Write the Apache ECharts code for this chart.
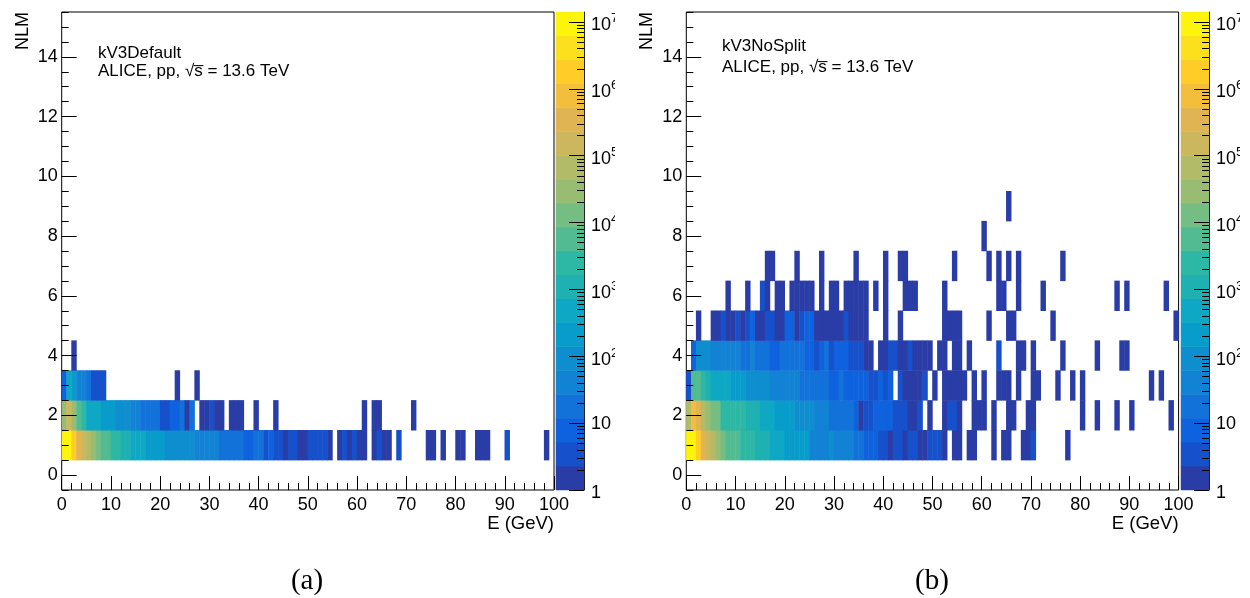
<!DOCTYPE html>
<html>
<head>
<meta charset="utf-8">
<style>html,body{margin:0;padding:0;background:#fff}#c{width:1250px;height:598px}</style>
<script src="https://cdn.jsdelivr.net/npm/echarts@6/dist/echarts.min.js"></script>
</head>
<body>
<div id="c"></div>
<script>
// Each row is a list of runs: [first E bin, count in that bin, count in next bin, ...]
const a1 = [[0,9400000,9400000,1800000,350000,150000,68000,30000,13000,5700,5700,2500,2500,1100,1100,480,480,480,210,210,210,210,92,92,92,92,92,92,41,41,41,41,41,18,18,18,18,18,8,8,18,18,3,8,3,3,1,3,3,1,1,3,3,3,3,1],[56,1,3,1,3,1,1],[63,1,3,1,1],[68,3],[74,1,1],[77,1],[80,1,1],[84,1,1,1],[90,3],[98,1]];
const a2 = [[0,30000,150000,30000,5700,2500,480,480,480,210,210,210,92,92,92,41,41,18,18,18,18,3,3,8,8,18,1,18],[28,1,1,3,1,1],[34,1,1,1],[39,1],[43,1],[61,1],[63,1,1],[71,1]];
const a3 = [[0,8,480,210,41,41,18,3,3,3],[23,1],[27,1]];
const a4 = [[2,1]];

const b1 = [[0,9400000,9400000,1800000,350000,150000,68000,30000,13000,5700,5700,5700,2500,2500,2500,1100,1100,1100,480,480,480,210,210,210,210,210,41,41,41,41,92,41,41,41,41,18,18,8,8,8,3,3,1,3,3,1,3,3,1,1,3,3,3,1],[54,1,1],[57,1,1],[62,1],[64,1,1],[68,1,1,3],[77,1]];
const b2 = [[0,68000,800000,350000,68000,30000,13000,13000,2500,2500,2500,2500,2500,1100,1100,1100,480,480,480,210,210,210,210,92,92,92,92,41,41,41,18,18,18,18,18,8,1,3,3,8,8,8,8,3,3,3,1,1,3],[49,1],[52,1,3,3,1],[58,1,1,1],[62,1],[65,1,1],[69,1,1],[80,1],[83,1],[87,1],[90,1],[98,1]];
const b3 = [[0,3,5700,5700,2500,1100,480,480,480,480,210,210,210,92,92,92,92,92,41,41,41,41,41,41,18,18,18,18,18,18,8,8,18,8,8,8,8,8,3,3,8,3,8],[43,3,1,1,1,1,3],[50,1],[52,1,1,1,1,1],[58,1],[60,1],[63,1,1,1],[67,1],[70,1,1],[75,1],[78,1],[80,1],[94,1],[96,1]];
const b4 = [[1,8,92,92,92,41,41,41,41,41,41,18,18,41,18,18,18,8,8,18,18,18,18,18,8,8,3,8,18,3,8,8,8,3,3,3,1,1],[39,1,1,3,3,1,1,3,1,1,1,1],[51,1,1],[54,1,1],[57,1],[63,3],[67,1,1],[70,1],[76,1],[83,1],[88,1,1]];
const b5 = [[2,1],[5,1,1,3,1,1,3,1,3,8,1,1,3,3,1,1,8,8,1,3,8,8,1,1,1,1,1,1,3,1,1,1,1],[40,1],[43,1],[52,1,1,1,1],[61,1],[65,1,1],[74,1],[99,1]];
const b6 = [[8,1],[12,1],[15,3,1],[18,1,1],[21,1,1,1,1,1],[27,1],[29,1,1],[32,1,1,1,1,1],[38,1],[40,1],[44,1,1,1],[52,1],[63,1,1],[67,1],[72,1],[87,1],[89,1],[97,1]];
const b7 = [[16,1,1],[22,1],[27,1],[34,1],[40,1],[43,1,1],[54,1],[61,1],[63,1],[65,1],[67,1],[76,1]];
const b8 = [[60,1]];
const b9 = [[65,1]];

const rowsA = {1:a1, 2:a2, 3:a3, 4:a4};
const rowsB = {1:b1, 2:b2, 3:b3, 4:b4, 5:b5, 6:b6, 7:b7, 8:b8, 9:b9};

const barValues = [1,3,8,18,41,92,210,480,1100,2500,5700,13000,30000,68000,150000,350000,800000,1800000,4000000,9400000];
const barColors = ['#2A3CA6','#1650CB','#0F62DD','#1272DA','#1282D4','#0E8ECE','#089CCB','#0EA8C4','#1FB1B2','#2DB7A5','#52BB92','#74BE84','#98BD72','#B1BB68','#CCB65E','#E0B452','#F2BE3C','#FFCC28','#FCE01E','#FCF40A'];
const barDecades = 7.15;
const eCategories = Array.from({length:100}, (_, i) => String(i));
const nlmCategories = Array.from({length:16}, (_, i) => String(i));
const nlmMajor = [0,2,4,6,8,10,12,14];
const nlmMinor = Array.from({length:33}, (_, i) => i/2 - 0.5);
const decadeTicks = [0,1,2,3,4,5,6,7];
const minorMultipliers = [2,3,4,5,6,7,8,9];
const minorDecadeTicks = [];
decadeTicks.forEach(d => minorMultipliers.forEach(m => {
  const v = d + Math.log10(m);
  if (v < barDecades) minorDecadeTicks.push(v);
}));

const FONT = '"Liberation Sans", Arial, sans-serif';
const xAxis = [], yAxis = [], grid = [], series = [];
const noLine = {show:false, onZero:false};

function cells(rows) {
  const out = [];
  Object.keys(rows).forEach(n => rows[n].forEach(run => {
    run.slice(1).forEach((v, i) => out.push([run[0] + i, +n, v]));
  }));
  return out;
}

function addPanel(rows, left, barLeft) {
  const gi = grid.length;
  grid.push({left:left, top:12, width:492.3, height:478, show:true, borderColor:'#000', borderWidth:1, backgroundColor:'#fff', containLabel:false});
  const xi = xAxis.length, yi = yAxis.length;
  xAxis.push({gridIndex:gi, type:'category', data:eCategories, show:false, boundaryGap:true});
  yAxis.push({gridIndex:gi, type:'category', data:nlmCategories, show:false, boundaryGap:true});
  xAxis.push({gridIndex:gi, type:'value', z:5, min:0, max:100, interval:10, position:'bottom', splitLine:{show:false}, axisLine:noLine,
    axisTick:{show:true, inside:true, length:14, lineStyle:{color:'#000', width:1}},
    axisLabel:{show:true, margin:6, color:'#000', fontSize:18, fontFamily:FONT, showMinLabel:true, showMaxLabel:true, hideOverlap:false},
    name:'E (GeV)', nameLocation:'end', nameGap:0, nameMoveOverlap:false,
    nameTextStyle:{color:'#000', fontSize:18.5, fontFamily:FONT, align:'right', verticalAlign:'top', padding:[24,0,0,0]}});
  xAxis.push({gridIndex:gi, type:'value', z:5, min:0, max:100, interval:2, position:'bottom', splitLine:{show:false}, axisLine:noLine,
    axisTick:{show:true, inside:true, length:7, lineStyle:{color:'#000', width:1}}, axisLabel:{show:false}});
  yAxis.push({gridIndex:gi, type:'value', z:5, min:-0.5, max:15.5, position:'left', splitLine:{show:false}, axisLine:noLine,
    axisTick:{show:true, inside:true, length:15, customValues:nlmMajor, lineStyle:{color:'#000', width:1}},
    axisLabel:{show:true, margin:4, padding:[2,0,0,0], color:'#000', fontSize:18, fontFamily:FONT, customValues:nlmMajor, hideOverlap:false},
    name:'NLM', nameLocation:'end', nameGap:0, nameRotate:90, nameMoveOverlap:false,
    nameTextStyle:{color:'#000', fontSize:18, fontFamily:FONT, align:'right', verticalAlign:'bottom', padding:[0,0,30,0]}});
  yAxis.push({gridIndex:gi, type:'value', z:5, min:-0.5, max:15.5, position:'left', splitLine:{show:false}, axisLine:noLine,
    axisTick:{show:true, inside:true, length:7, customValues:nlmMinor, lineStyle:{color:'#000', width:1}}, axisLabel:{show:false}});
  series.push({type:'heatmap', xAxisIndex:xi, yAxisIndex:yi, data:cells(rows), emphasis:{disabled:true}, progressive:0, silent:true});

  const gb = grid.length;
  grid.push({left:barLeft, top:12, width:28, height:478});
  const bx = xAxis.length, by = yAxis.length;
  xAxis.push({gridIndex:gb, type:'category', data:[''], show:false});
  yAxis.push({gridIndex:gb, type:'category', data:barValues.map(String), show:false});
  yAxis.push({gridIndex:gb, type:'value', z:5, min:0, max:barDecades, position:'right', splitLine:{show:false},
    axisLine:{show:true, onZero:false, lineStyle:{color:'#222', width:1}},
    axisTick:{show:true, inside:true, length:15, customValues:decadeTicks, lineStyle:{color:'#000', width:1}},
    axisLabel:{show:true, inside:false, margin:7, padding:[2,0,0,0], align:'left', color:'#000', fontSize:18, fontFamily:FONT, customValues:decadeTicks, hideOverlap:false,
      formatter:v => v === 0 ? '{o|1}' : v === 1 ? '10' : '{b|10}{s|' + v + '}',
      rich:{o:{fontSize:18, fontFamily:FONT, color:'#000', padding:[4,0,0,0]},
            b:{fontSize:18, fontFamily:FONT, color:'#000', verticalAlign:'bottom'},
            s:{fontSize:13.5, fontFamily:FONT, color:'#000', verticalAlign:'top', padding:[0,0,9,0]}}}});
  yAxis.push({gridIndex:gb, type:'value', z:5, min:0, max:barDecades, position:'right', splitLine:{show:false}, axisLine:noLine,
    axisTick:{show:true, inside:true, length:7, customValues:minorDecadeTicks, lineStyle:{color:'#000', width:1}}, axisLabel:{show:false}});
  series.push({type:'heatmap', xAxisIndex:bx, yAxisIndex:by, data:barValues.map((v, i) => [0, i, v]), emphasis:{disabled:true}, silent:true});
}

addPanel(rowsA, 61.7, 556);
addPanel(rowsB, 686.3, 1181);

const pieces = barColors.map((c, i) => ({
  min: Math.pow(10, i * barDecades / 20),
  max: Math.pow(10, (i + 1) * barDecades / 20),
  color: c
}));

function txt(x, y, text, font, align) {
  return {type:'text', x:x, y:y, z:50, silent:true,
    style:{text:text, font:font, fill:'#000', textAlign:align || 'left', textVerticalAlign:'middle'}};
}
const labelFont = '17px ' + FONT;
const captionFont = '29px "Liberation Serif", "DejaVu Serif", serif';
const graphic = [
  txt(98, 53, 'kV3Default', labelFont),
  txt(98, 71, 'ALICE, pp, \u221As\u0305 = 13.6 TeV', labelFont),
  txt(722, 46, 'kV3NoSplit', labelFont),
  txt(722, 67, 'ALICE, pp, \u221As\u0305 = 13.6 TeV', labelFont),
  txt(307, 581, '(a)', captionFont, 'center'),
  txt(932, 581, '(b)', captionFont, 'center'),
  {type:'rect', z:60, silent:true, shape:{x:615, y:0, width:19, height:498}, style:{fill:'#fff'}},
  {type:'rect', z:60, silent:true, shape:{x:1240, y:0, width:10, height:498}, style:{fill:'#fff'}}
];

const chart = echarts.init(document.getElementById('c'), null, {renderer:'canvas'});
chart.setOption({
  animation:false,
  backgroundColor:'#fff',
  tooltip:{show:false},
  grid:grid, xAxis:xAxis, yAxis:yAxis,
  visualMap:{type:'piecewise', show:false, dimension:2, seriesIndex:[0,1,2,3], pieces:pieces},
  series:series,
  graphic:graphic
});
</script>
</body>
</html>
